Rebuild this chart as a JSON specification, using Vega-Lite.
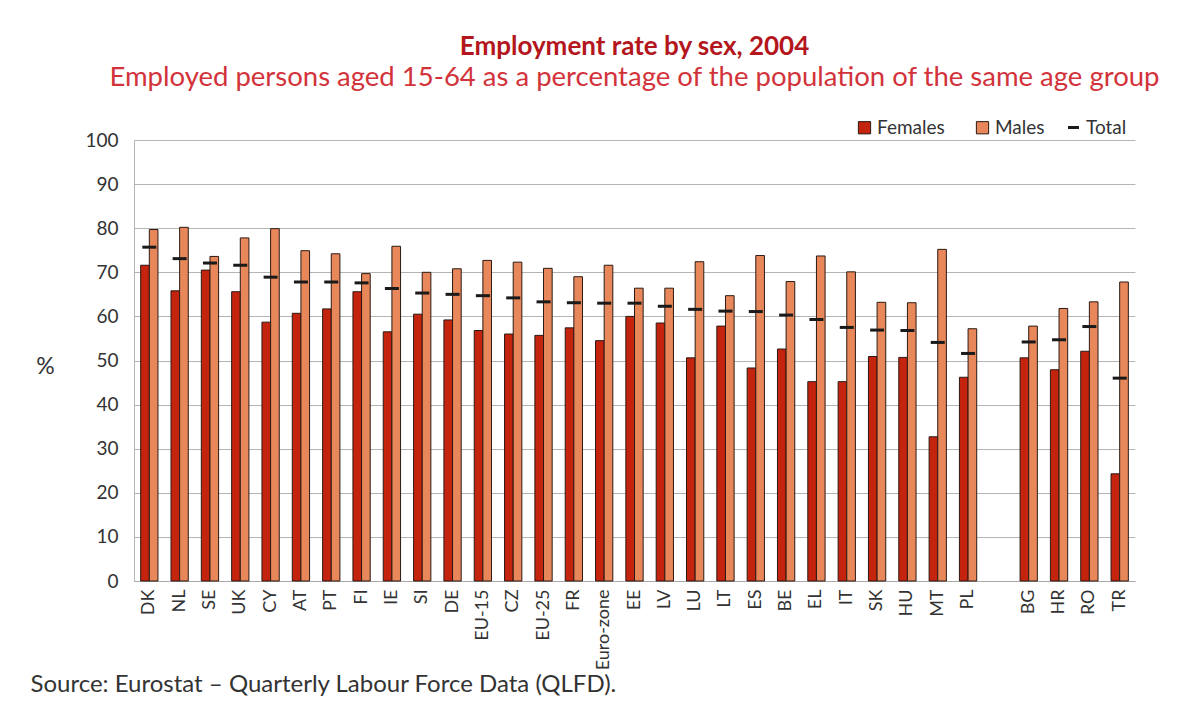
{
  "$schema": "https://vega.github.io/schema/vega-lite/v6.json",
  "autosize": "none",
  "width": 1001,
  "height": 441,
  "padding": {"left": 134, "top": 140, "right": 43, "bottom": 127},
  "background": "white",
  "title": {
    "text": "Employment rate by sex, 2004",
    "subtitle": "Employed persons aged 15-64 as a percentage of the population of the same age group",
    "anchor": "middle",
    "frame": "group",
    "offset": 27,
    "font": "Lato",
    "fontSize": 26,
    "fontWeight": "bold",
    "color": "#b3161c",
    "subtitleFont": "Lato",
    "subtitleFontSize": 27.5,
    "subtitleColor": "#d2333b",
    "subtitlePadding": 4
  },
  "datasets": {
    "bars": [
      {"country": "DK", "sex": "Females", "value": 71.6}, {"country": "DK", "sex": "Males", "value": 79.7},
      {"country": "NL", "sex": "Females", "value": 65.8}, {"country": "NL", "sex": "Males", "value": 80.2},
      {"country": "SE", "sex": "Females", "value": 70.5}, {"country": "SE", "sex": "Males", "value": 73.6},
      {"country": "UK", "sex": "Females", "value": 65.6}, {"country": "UK", "sex": "Males", "value": 77.8},
      {"country": "CY", "sex": "Females", "value": 58.7}, {"country": "CY", "sex": "Males", "value": 79.9},
      {"country": "AT", "sex": "Females", "value": 60.7}, {"country": "AT", "sex": "Males", "value": 74.9},
      {"country": "PT", "sex": "Females", "value": 61.7}, {"country": "PT", "sex": "Males", "value": 74.2},
      {"country": "FI", "sex": "Females", "value": 65.6}, {"country": "FI", "sex": "Males", "value": 69.7},
      {"country": "IE", "sex": "Females", "value": 56.5}, {"country": "IE", "sex": "Males", "value": 75.9},
      {"country": "SI", "sex": "Females", "value": 60.5}, {"country": "SI", "sex": "Males", "value": 70.0},
      {"country": "DE", "sex": "Females", "value": 59.2}, {"country": "DE", "sex": "Males", "value": 70.8},
      {"country": "EU-15", "sex": "Females", "value": 56.8}, {"country": "EU-15", "sex": "Males", "value": 72.7},
      {"country": "CZ", "sex": "Females", "value": 56.0}, {"country": "CZ", "sex": "Males", "value": 72.3},
      {"country": "EU-25", "sex": "Females", "value": 55.7}, {"country": "EU-25", "sex": "Males", "value": 70.9},
      {"country": "FR", "sex": "Females", "value": 57.4}, {"country": "FR", "sex": "Males", "value": 69.0},
      {"country": "Euro-zone", "sex": "Females", "value": 54.5}, {"country": "Euro-zone", "sex": "Males", "value": 71.6},
      {"country": "EE", "sex": "Females", "value": 60.0}, {"country": "EE", "sex": "Males", "value": 66.4},
      {"country": "LV", "sex": "Females", "value": 58.5}, {"country": "LV", "sex": "Males", "value": 66.4},
      {"country": "LU", "sex": "Females", "value": 50.6}, {"country": "LU", "sex": "Males", "value": 72.4},
      {"country": "LT", "sex": "Females", "value": 57.8}, {"country": "LT", "sex": "Males", "value": 64.7},
      {"country": "ES", "sex": "Females", "value": 48.3}, {"country": "ES", "sex": "Males", "value": 73.8},
      {"country": "BE", "sex": "Females", "value": 52.6}, {"country": "BE", "sex": "Males", "value": 67.9},
      {"country": "EL", "sex": "Females", "value": 45.2}, {"country": "EL", "sex": "Males", "value": 73.7},
      {"country": "IT", "sex": "Females", "value": 45.2}, {"country": "IT", "sex": "Males", "value": 70.1},
      {"country": "SK", "sex": "Females", "value": 50.9}, {"country": "SK", "sex": "Males", "value": 63.2},
      {"country": "HU", "sex": "Females", "value": 50.7}, {"country": "HU", "sex": "Males", "value": 63.1},
      {"country": "MT", "sex": "Females", "value": 32.7}, {"country": "MT", "sex": "Males", "value": 75.2},
      {"country": "PL", "sex": "Females", "value": 46.2}, {"country": "PL", "sex": "Males", "value": 57.2},
      {"country": "BG", "sex": "Females", "value": 50.6}, {"country": "BG", "sex": "Males", "value": 57.8},
      {"country": "HR", "sex": "Females", "value": 47.9}, {"country": "HR", "sex": "Males", "value": 61.8},
      {"country": "RO", "sex": "Females", "value": 52.1}, {"country": "RO", "sex": "Males", "value": 63.3},
      {"country": "TR", "sex": "Females", "value": 24.3}, {"country": "TR", "sex": "Males", "value": 67.8}
    ],
    "totals": [
      {"country": "DK", "total": 75.7}, {"country": "NL", "total": 73.1}, {"country": "SE", "total": 72.1},
      {"country": "UK", "total": 71.6}, {"country": "CY", "total": 68.9}, {"country": "AT", "total": 67.8},
      {"country": "PT", "total": 67.8}, {"country": "FI", "total": 67.6}, {"country": "IE", "total": 66.3},
      {"country": "SI", "total": 65.3}, {"country": "DE", "total": 65.0}, {"country": "EU-15", "total": 64.7},
      {"country": "CZ", "total": 64.2}, {"country": "EU-25", "total": 63.3}, {"country": "FR", "total": 63.1},
      {"country": "Euro-zone", "total": 63.0}, {"country": "EE", "total": 63.0}, {"country": "LV", "total": 62.3},
      {"country": "LU", "total": 61.6}, {"country": "LT", "total": 61.2}, {"country": "ES", "total": 61.1},
      {"country": "BE", "total": 60.3}, {"country": "EL", "total": 59.3}, {"country": "IT", "total": 57.5},
      {"country": "SK", "total": 56.9}, {"country": "HU", "total": 56.8}, {"country": "MT", "total": 54.1},
      {"country": "PL", "total": 51.6}, {"country": "BG", "total": 54.2}, {"country": "HR", "total": 54.7},
      {"country": "RO", "total": 57.7}, {"country": "TR", "total": 46.0}
    ]
  },
  "encoding": {
    "x": {
      "field": "country",
      "type": "nominal",
      "scale": {
        "domain": ["DK","NL","SE","UK","CY","AT","PT","FI","IE","SI","DE","EU-15","CZ","EU-25","FR","Euro-zone","EE","LV","LU","LT","ES","BE","EL","IT","SK","HU","MT","PL"," ","BG","HR","RO","TR"],
        "paddingInner": 0.43,
        "paddingOuter": 0.22
      },
      "axis": {
        "labelAngle": -90,
        "labelFont": "Lato",
        "labelFontSize": 18,
        "labelColor": "#333333",
        "labelPadding": 8,
        "ticks": false,
        "domain": true,
        "domainColor": "#a8a8a8",
        "title": "Source: Eurostat – Quarterly Labour Force Data (QLFD).",
        "titleFont": "Lato",
        "titleFontSize": 24,
        "titleFontWeight": "normal",
        "titleColor": "#333333",
        "titleAnchor": "start",
        "titleAlign": "left",
        "titleBaseline": "alphabetic",
        "titleX": -104,
        "titleY": 110
      }
    }
  },
  "layer": [
    {
      "data": {"name": "bars"},
      "mark": {"type": "bar", "stroke": "#2b1a14", "strokeWidth": 1},
      "encoding": {
        "xOffset": {"field": "sex", "type": "nominal", "scale": {"domain": ["Females", "Males"], "paddingInner": 0, "paddingOuter": 0}},
        "y": {
          "field": "value",
          "type": "quantitative",
          "scale": {"domain": [0, 100]},
          "axis": {
            "values": [0,10,20,30,40,50,60,70,80,90,100],
            "labelFont": "Lato",
            "labelFontSize": 19,
            "labelColor": "#333333",
            "labelPadding": 16,
            "ticks": false,
            "domain": true,
            "domainColor": "#b4b4b4",
            "grid": true,
            "gridColor": "#b4b4b4",
            "gridWidth": 1,
            "title": "%",
            "titleFont": "Lato",
            "titleFontSize": 23,
            "titleFontWeight": "normal",
            "titleColor": "#333333",
            "titleAngle": 0,
            "titleAlign": "center",
            "titleBaseline": "middle",
            "titleX": -89,
            "titleY": 226
          }
        },
        "color": {
          "field": "sex",
          "type": "nominal",
          "scale": {"domain": ["Females", "Males"], "range": ["#c4230e", "#e8875a"]},
          "legend": {
            "orient": "none",
            "legendX": 721,
            "legendY": -22,
            "direction": "horizontal",
            "title": null,
            "labelFont": "Lato",
            "labelFontSize": 19,
            "labelColor": "#333333",
            "labelOffset": 3,
            "symbolType": "square",
            "symbolSize": 150,
            "symbolStrokeColor": "#2b1a14",
            "symbolStrokeWidth": 1,
            "columnPadding": 28
          }
        }
      }
    },
    {
      "data": {"name": "totals"},
      "mark": {"type": "tick", "thickness": 3, "size": 14, "opacity": 1},
      "encoding": {
        "y": {"field": "total", "type": "quantitative"},
        "color": {
          "datum": "Total",
          "scale": {"domain": ["Total"], "range": ["#1a1a1a"]},
          "legend": {
            "orient": "none",
            "legendX": 930,
            "legendY": -22,
            "direction": "horizontal",
            "title": null,
            "labelFont": "Lato",
            "labelFontSize": 19,
            "labelColor": "#333333",
            "labelOffset": 3,
            "symbolType": "stroke",
            "symbolSize": 120,
            "symbolStrokeColor": "#1a1a1a",
            "symbolStrokeWidth": 3
          }
        }
      }
    }
  ],
  "resolve": {"scale": {"color": "independent"}, "legend": {"color": "independent"}},
  "config": {
    "view": {"stroke": null}
  }
}
